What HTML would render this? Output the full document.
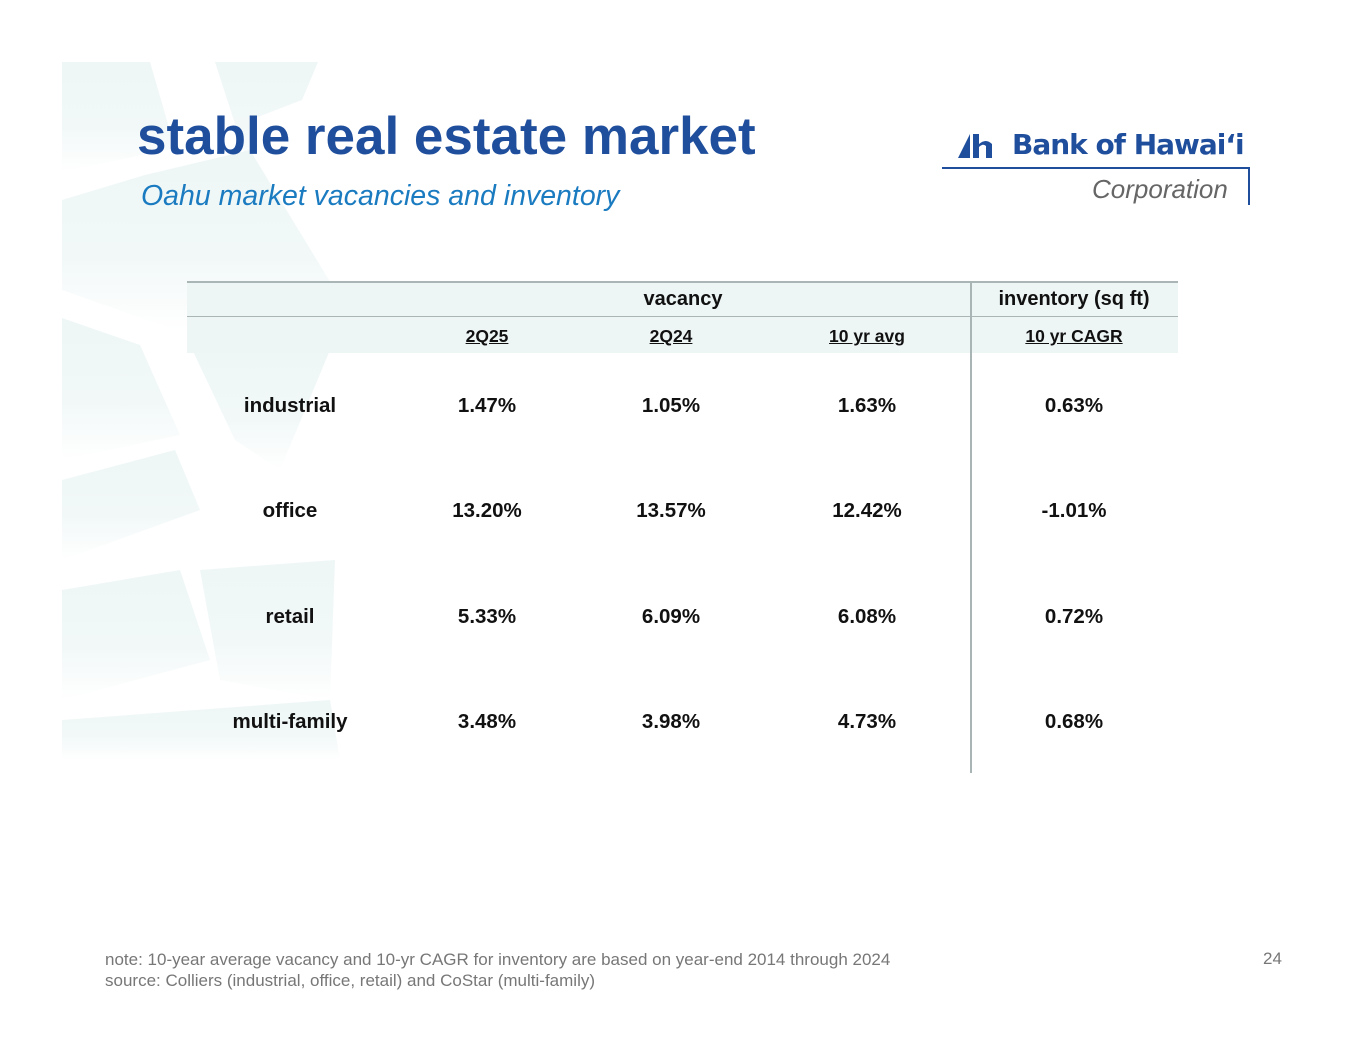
<!DOCTYPE html>
<html><head><meta charset="utf-8"><style>
body{margin:0;width:1365px;height:1055px;background:#fff;position:relative;overflow:hidden;font-family:"Liberation Sans",Arial,sans-serif}
.abs{position:absolute}
.c{position:absolute;text-align:center;font-weight:bold;color:#111;transform:translateX(-50%);white-space:nowrap}
</style></head><body>
<svg class="abs" style="left:0;top:0" width="1365" height="1055">
<defs><linearGradient id="g" x1="0" y1="0" x2="0" y2="1"><stop offset="0" stop-color="#eef6f6"/><stop offset="0.6" stop-color="#f2f8f8"/><stop offset="1" stop-color="#ffffff"/></linearGradient></defs>
<g fill="url(#g)">
<polygon points="62,62 150,62 175,148 62,172"/>
<polygon points="215,62 318,62 302,100 255,118 250,170"/>
<polygon points="62,200 145,175 250,150 335,290 175,330 62,290"/>
<polygon points="62,318 140,345 180,435 62,460"/>
<polygon points="190,345 330,350 280,470 235,440"/>
<polygon points="62,480 175,450 200,510 62,560"/>
<polygon points="62,590 180,570 210,660 62,700"/>
<polygon points="200,570 335,560 330,700 220,680"/>
<polygon points="62,720 330,700 340,760 62,760"/>
</g>
</svg>
<div class="abs" style="left:137px;top:106px;font-size:53px;font-weight:bold;color:#1f4e9c">stable real estate market</div>
<div class="abs" style="left:141px;top:180px;font-size:28.5px;font-style:italic;color:#1a7bc0">Oahu market vacancies and inventory</div>
<div class="abs" style="left:942px;top:118px;width:310px;height:90px">
<svg class="abs" style="left:14px;top:12px" width="42" height="30"><polygon points="2,28 14,4 14,28" fill="#1f4e9c"/><rect x="17" y="4" width="6" height="24" fill="#1f4e9c"/><path d="M23,14 Q30,8 36,14 L36,28 L30,28 L30,16 Q27,13 23,17Z" fill="#1f4e9c"/></svg>
<div class="abs" style="left:70px;top:10px;font-size:28px;font-weight:bold;color:#1f4e9c;font-family:'DejaVu Sans',sans-serif;letter-spacing:-1px">Bank of Hawai‘i</div>
<div class="abs" style="left:0;top:49px;width:307px;height:2px;background:#1f4e9c"></div>
<div class="abs" style="left:306px;top:49px;width:2px;height:38px;background:#1f4e9c"></div>
<div class="abs" style="left:150px;top:56px;font-size:26px;font-style:italic;color:#666">Corporation</div>
</div>
<div class="abs" style="left:187px;top:281px;width:991px;height:70px;background:#eef5f5;border-top:2px solid #aab5b5"></div>
<div class="abs" style="left:187px;top:316px;width:991px;height:1px;background:#aab5b5"></div>
<div class="abs" style="left:970px;top:281px;width:2px;height:492px;background:#a9b4b4"></div>
<div id="t"></div>
<div class="abs" style="left:105px;top:949px;font-size:17px;line-height:21px;color:#777">note: 10-year average vacancy and 10-yr CAGR for inventory are based on year-end 2014 through 2024<br>source: Colliers (industrial, office, retail) and CoStar (multi-family)</div>
<div class="abs" style="left:1263px;top:949px;font-size:17px;color:#777">24</div>
<script>
const categories=["industrial","office","retail","multi-family"];
const v2Q25=["1.47%","13.20%","5.33%","3.48%"];
const v2Q24=["1.05%","13.57%","6.09%","3.98%"];
const avg10=["1.63%","12.42%","6.08%","4.73%"];
const cagr10=["0.63%","-1.01%","0.72%","0.68%"];
const subHeaders=["2Q25","2Q24","10 yr avg","10 yr CAGR"];
const colX=[290,487,671,867,1074];
const t=document.getElementById('t');
function cell(x,y,txt,size,name,u){const d=document.createElement('div');d.className='c';d.style.left=x+'px';d.style.top=y+'px';d.style.fontSize=size+'px';if(u)d.style.textDecoration='underline';d.textContent=txt;


t.appendChild(d);}
cell(683,288,"vacancy",20,"header-vacancy");
cell(1074,288,"inventory (sq ft)",20,"header-inventory");
subHeaders.forEach((h,i)=>cell(colX[i+1],326,h,17.5,"subheader-"+i,true));
const cols=[categories,v2Q25,v2Q24,avg10,cagr10];
categories.forEach((c,r)=>{const y=394+r*105.3;cols.forEach((col,j)=>cell(colX[j],y,col[r],20.5,"cell-"+c+"-"+j));});
</script>
</body></html>
